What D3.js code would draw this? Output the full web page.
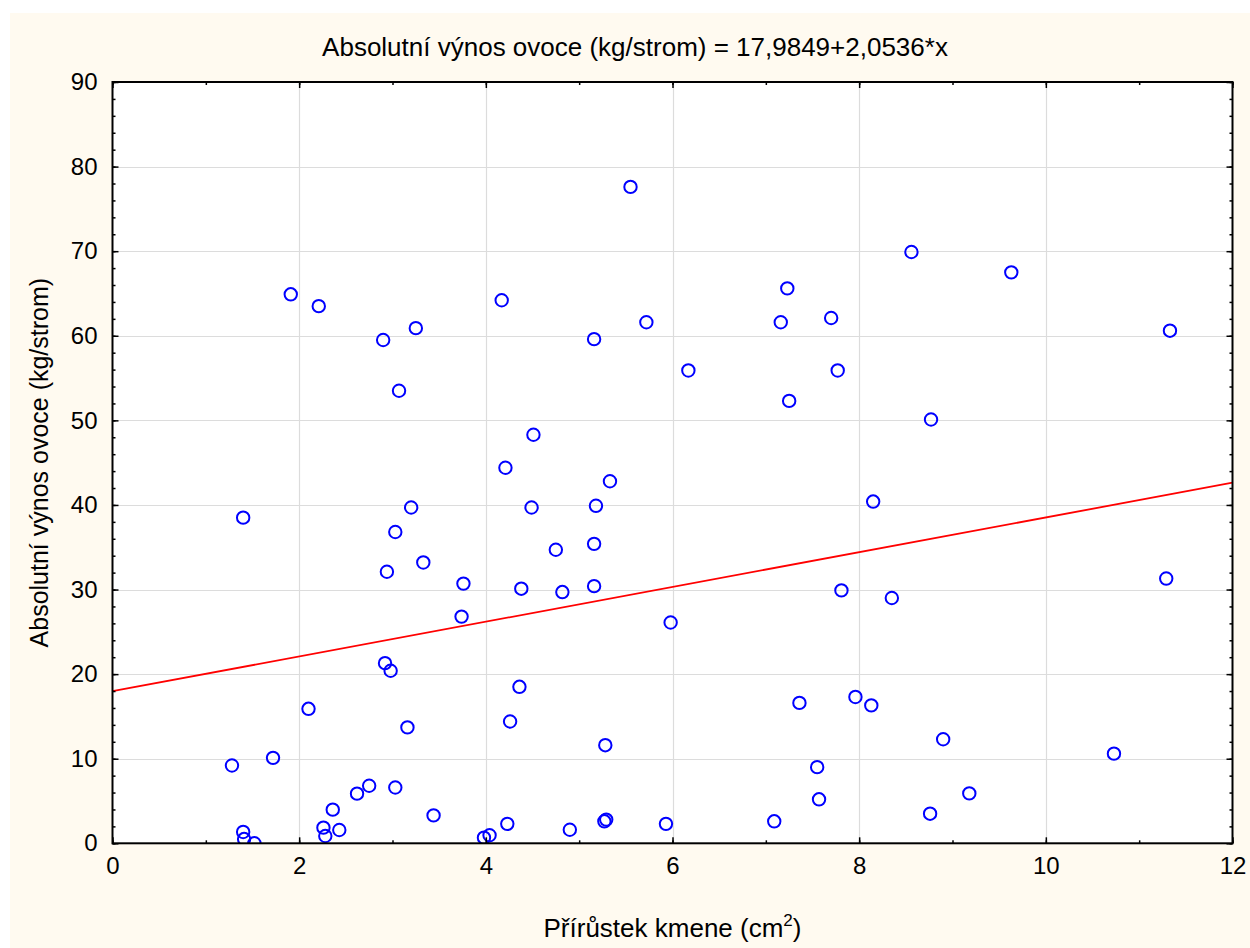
<!DOCTYPE html>
<html><head><meta charset="utf-8">
<script src="https://cdn.jsdelivr.net/npm/d3@7"></script>
<style>body{margin:0;background:#fff}svg{display:block}</style>
</head><body>
<svg id="c" width="1250" height="948"></svg>
<script>
const xValues = [1.28,1.40,1.41,1.52,1.40,1.72,1.91,2.10,2.21,2.26,2.28,2.36,2.43,2.62,2.75,2.90,2.92,2.94,2.98,3.03,3.03,3.07,3.16,3.20,3.25,3.33,3.44,3.74,3.76,3.98,4.04,4.17,4.21,4.23,4.26,4.36,4.38,4.49,4.51,4.75,4.82,4.90,5.16,5.16,5.16,5.18,5.27,5.29,5.28,5.33,5.55,5.72,5.93,5.98,6.17,7.09,7.16,7.23,7.25,7.36,7.55,7.57,7.70,7.77,7.81,7.96,8.13,8.15,8.35,8.56,8.76,8.77,8.90,9.18,9.63,10.73,11.29,11.33];
const yValues = [9.2,1.34,0.5,0.0,38.5,10.1,64.9,15.9,63.5,1.85,0.86,3.98,1.57,5.87,6.8,59.5,21.3,32.1,20.4,36.8,6.6,53.5,13.7,39.7,60.9,33.2,3.3,26.8,30.7,0.67,0.95,64.2,44.4,2.3,14.4,18.5,30.1,39.7,48.3,34.7,29.7,1.6,59.6,35.4,30.4,39.9,2.6,2.8,11.6,42.8,77.6,61.6,2.3,26.1,55.9,2.6,61.6,65.6,52.3,16.6,9.0,5.2,62.1,55.9,29.9,17.3,16.3,40.4,29.0,69.9,3.5,50.1,12.3,5.9,67.5,10.6,31.3,60.6];
const xTicks = [0,2,4,6,8,10,12];
const yTicks = [0,10,20,30,40,50,60,70,80,90];
const intercept = 17.9849, slope = 2.0536;
const titleText = "Absolutní výnos ovoce (kg/strom) = 17,9849+2,0536*x";
const xLabel = "Přírůstek kmene (cm";
const yLabel = "Absolutní výnos ovoce (kg/strom)";

const svg = d3.select("#c");
const L = 112.5, R = 1232.5, T = 82, B = 843.3;
const x = d3.scaleLinear().domain([0,12]).range([L,R]);
const y = d3.scaleLinear().domain([0,90]).range([B,T]);
const font = "Arial, 'Liberation Sans', sans-serif";

svg.append("rect").attr("x",10).attr("y",13).attr("width",1240).attr("height",935).attr("fill","#FFFAF0");
svg.append("rect").attr("x",L).attr("y",T).attr("width",R-L).attr("height",B-T).attr("fill","#fff");

// grid
svg.append("g").selectAll("line").data(xTicks.slice(1,-1)).join("line")
  .attr("x1",d=>Math.round(x(d))+0.5).attr("x2",d=>Math.round(x(d))+0.5).attr("y1",T).attr("y2",B)
  .attr("stroke","#dcdcdc").attr("stroke-width",1.2);
svg.append("g").selectAll("line").data(yTicks.slice(1,-1)).join("line")
  .attr("y1",d=>Math.round(y(d))+0.5).attr("y2",d=>Math.round(y(d))+0.5).attr("x1",L).attr("x2",R)
  .attr("stroke","#dcdcdc").attr("stroke-width",1.2);

// clip
svg.append("clipPath").attr("id","pc").append("rect").attr("x",L).attr("y",T).attr("width",R-L).attr("height",B-T);
const pg = svg.append("g").attr("clip-path","url(#pc)");

// regression line
pg.append("line").attr("x1",x(0)).attr("y1",y(intercept)).attr("x2",x(12)).attr("y2",y(intercept+slope*12))
  .attr("stroke","#ff0000").attr("stroke-width",1.8);

// points
pg.selectAll("circle").data(xValues.map((v,i)=>[v,yValues[i]])).join("circle")
  .attr("cx",d=>x(d[0])).attr("cy",d=>y(d[1])).attr("r",6.2)
  .attr("fill","none").attr("stroke","#0000ff").attr("stroke-width",2);

// axes with inward ticks on all sides
const minorX = d3.range(0,12.01,1), minorY = d3.range(0,90.01,2);
const axB = svg.append("g").attr("transform",`translate(0,${B})`)
  .call(d3.axisBottom(x).tickValues(minorX).tickSize(-3).tickFormat(""));
const axB2 = svg.append("g").attr("transform",`translate(0,${B})`)
  .call(d3.axisBottom(x).tickValues(xTicks).tickSize(-6).tickPadding(14).tickFormat(d=>d));
const axT = svg.append("g").attr("transform",`translate(0,${T})`)
  .call(d3.axisTop(x).tickValues(minorX).tickSize(-3).tickFormat(""));
const axT2 = svg.append("g").attr("transform",`translate(0,${T})`)
  .call(d3.axisTop(x).tickValues(xTicks).tickSize(-6).tickFormat(""));
const axL = svg.append("g").attr("transform",`translate(${L},0)`)
  .call(d3.axisLeft(y).tickValues(minorY).tickSize(-3).tickFormat(""));
const axL2 = svg.append("g").attr("transform",`translate(${L},0)`)
  .call(d3.axisLeft(y).tickValues(yTicks).tickSize(-6).tickPadding(14).tickFormat(d=>d));
const axR = svg.append("g").attr("transform",`translate(${R},0)`)
  .call(d3.axisRight(y).tickValues(minorY).tickSize(-3).tickFormat(""));
const axR2 = svg.append("g").attr("transform",`translate(${R},0)`)
  .call(d3.axisRight(y).tickValues(yTicks).tickSize(-6).tickFormat(""));
[axB,axB2,axT,axT2,axL,axL2,axR,axR2].forEach(a=>{
  a.select(".domain").remove();
  a.selectAll("line").attr("stroke","#000").attr("stroke-width",1.5);
  a.selectAll("text").attr("font-family",font).attr("font-size",24).attr("fill","#000");
});
axL2.selectAll("text").attr("x",-15);

// frame
svg.append("rect").attr("x",L).attr("y",T).attr("width",R-L).attr("height",B-T)
  .attr("fill","none").attr("stroke","#000").attr("stroke-width",2);

// title
svg.append("text").attr("x",635).attr("y",56).attr("text-anchor","middle")
  .attr("font-family",font).attr("font-size",26).attr("fill","#000").text(titleText);

// x label
const xl = svg.append("text").attr("x",(L+R)/2).attr("y",937).attr("text-anchor","middle")
  .attr("font-family",font).attr("font-size",26).attr("fill","#000");
xl.append("tspan").text(xLabel);
xl.append("tspan").attr("font-size",17).attr("dy",-11).text("2");
xl.append("tspan").attr("dy",11).text(")");

// y label
svg.append("text").attr("transform",`translate(48,${(T+B)/2}) rotate(-90)`).attr("text-anchor","middle")
  .attr("font-family",font).attr("font-size",25).attr("fill","#000").text(yLabel);
</script>
</body></html>
